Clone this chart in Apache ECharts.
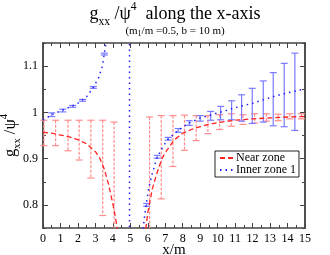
<!DOCTYPE html>
<html><head><meta charset="utf-8">
<script src="https://cdn.jsdelivr.net/npm/echarts@6/dist/echarts.min.js"></script>
<style>html,body{margin:0;padding:0;background:#fff}#c{width:330px;height:255px}</style>
</head><body><div id="c"></div>
<script>
// Near zone curve
const nearX = [0, 0.5, 1, 1.5, 2, 2.5, 3, 3.25, 3.5, 3.75, 4.0, 4.15, 4.3, 4.45, 5.7, 5.8, 5.9, 6.0, 6.25, 6.5, 6.8, 7.0, 7.5, 8, 8.5, 9, 9.5, 10, 11, 12, 13, 14, 15];
const nearY = [0.957, 0.955, 0.951, 0.947, 0.941, 0.932, 0.915, 0.901, 0.878, 0.845, 0.802, 0.772, 0.738, 0.70, 0.68, 0.722, 0.753, 0.783, 0.833, 0.866, 0.899, 0.913, 0.940, 0.955, 0.963, 0.969, 0.974, 0.978, 0.983, 0.986, 0.988, 0.990, 0.991];
// Inner zone 1 curve
const innerX = [0, 0.5, 1, 1.5, 2, 2.5, 2.9, 3.2, 3.4, 3.6, 3.75, 4.95, 4.96, 5.6, 5.74, 5.9, 6.05, 6.22, 6.54, 6.89, 7.17, 7.5, 7.74, 8.0, 8.37, 9.0, 9.4, 9.75, 10.3, 10.9, 11.5, 12.04, 12.6, 13.18, 13.75, 14.33, 15];
const innerY = [0.983, 0.995, 1.003, 1.011, 1.020, 1.034, 1.055, 1.076, 1.100, 1.15, 1.21, 3, -3, 0.6, 0.752, 0.80, 0.835, 0.863, 0.904, 0.927, 0.943, 0.953, 0.961, 0.968, 0.977, 0.988, 0.992, 0.996, 1.002, 1.009, 1.015, 1.020, 1.027, 1.034, 1.040, 1.045, 1.051];
// Near zone error bars
const nearErrX = [0.05, 0.72, 1.43, 2.07, 2.74, 3.42, 4.07, 6.1, 6.77, 7.44, 8.1, 8.77, 9.44, 10.11, 10.78, 11.45, 12.12, 12.79, 13.46, 14.13, 14.8];
const nearErrLow = [0.928, 0.928, 0.917, 0.897, 0.858, 0.777, 0.60, 0.636, 0.813, 0.883, 0.918, 0.939, 0.954, 0.963, 0.970, 0.974, 0.977, 0.981, 0.982, 0.986, 0.986];
const nearErrHigh = [0.983, 0.983, 0.983, 0.983, 0.983, 0.983, 0.979, 0.990, 0.993, 0.993, 0.994, 0.993, 0.993, 0.995, 0.997, 0.995, 0.997, 0.997, 0.996, 0.997, 0.997];
// Inner zone 1 error bars
const innerErrX = [0.5, 1.13, 1.7, 2.27, 2.88, 3.51, 5.94, 6.54, 7.17, 7.74, 8.37, 9.0, 9.6, 10.17, 10.8, 11.37, 11.98, 12.61, 13.18, 13.81, 14.42];
const innerErrLow = [0.991, 1.001, 1.011, 1.024, 1.052, 1.124, 0.797, 0.901, 0.940, 0.957, 0.972, 0.981, 0.983, 0.984, 0.984, 0.981, 0.976, 0.979, 0.971, 0.969, 0.961];
const innerErrHigh = [0.999, 1.007, 1.015, 1.028, 1.056, 1.128, 0.803, 0.907, 0.946, 0.965, 0.982, 0.993, 1.002, 1.013, 1.025, 1.038, 1.052, 1.068, 1.086, 1.106, 1.128];
// Ticks
const xMin = 0, xMax = 15, xStep = 1;
const yMin = 0.75, yMax = 1.15;
const yMajorTicks = [0.8, 0.9, 1, 1.1];
const yMinorTicks = [0.75, 0.85, 0.95, 1.05, 1.15];

const FONT = 'Liberation Serif';
const AX = '#444';

function errRender(color, dash, capW) {
  return function (params, api) {
    const x = api.value(0), lo = api.value(1), hi = api.value(2);
    const pLo = api.coord([x, lo]), pHi = api.coord([x, hi]);
    const cs = params.coordSys;
    const top = cs.y, bot = cs.y + cs.height;
    const clamp = v => Math.max(top, Math.min(bot, v));
    const ch = [{type: 'line', shape: {x1: pLo[0], y1: clamp(pHi[1]), x2: pLo[0], y2: clamp(pLo[1])},
      style: {stroke: color, lineWidth: 1.2, lineDash: dash}}];
    [pHi, pLo].forEach(p => {
      if (p[1] >= top && p[1] <= bot) ch.push({type: 'line', shape: {x1: p[0] - capW, y1: p[1], x2: p[0] + capW, y2: p[1]},
        style: {stroke: color, lineWidth: 1.2}});
    });
    return {type: 'group', children: ch};
  };
}

const zip = (a, b) => a.map((v, i) => [v, b[i]]);
const zip3 = (a, b, c) => a.map((v, i) => [v, b[i], c[i]]);

function yAx(pos, ticks, len, labels) {
  return {type: 'value', min: yMin, max: yMax, position: pos, splitLine: {show: false},
    axisLine: {show: true, onZero: false, lineStyle: {color: AX, width: 1.5}},
    axisTick: {show: true, inside: true, length: len, customValues: ticks, lineStyle: {color: AX}},
    axisLabel: labels ? {show: true, customValues: ticks, color: '#000', fontFamily: FONT, fontSize: 12, margin: 5} : {show: false}};
}
function xAx(pos, labels) {
  const a = {type: 'value', min: xMin, max: xMax, interval: xStep, position: pos, splitLine: {show: false},
    axisLine: {show: true, onZero: false, lineStyle: {color: AX, width: 1.5}},
    axisTick: {show: true, inside: true, length: 5, lineStyle: {color: AX}},
    minorTick: {show: true, splitNumber: 2, length: 3, lineStyle: {color: AX}},
    axisLabel: labels ? {color: '#000', fontFamily: FONT, fontSize: 12, margin: 5} : {show: false}};
  if (labels) {
    a.name = 'x/m'; a.nameLocation = 'middle'; a.nameGap = 15; a.nameMoveOverlap = false;
    a.nameTextStyle = {color: '#000', fontFamily: FONT, fontSize: 15};
  }
  return a;
}

const yMain = yAx('left', yMajorTicks, 5, true);
yMain.name = '{g|g}{sub|xx}{m| /ψ}{sup|4}';
yMain.nameLocation = 'middle';
yMain.nameGap = 20;
yMain.nameMoveOverlap = false;
yMain.nameTextStyle = {color: '#000', fontFamily: FONT, rich: {
  g: {fontSize: 16.5, fontFamily: FONT, lineHeight: 24},
  m: {fontSize: 16.5, fontFamily: FONT, lineHeight: 24},
  sub: {fontSize: 10.5, fontFamily: FONT, lineHeight: 10, verticalAlign: 'bottom'},
  sup: {fontSize: 10.5, fontFamily: FONT, lineHeight: 13, verticalAlign: 'top'}
}};

const chart = echarts.init(document.getElementById('c'), null, {renderer: 'canvas'});
chart.setOption({
  animation: false,
  backgroundColor: '#fff',
  grid: {left: 43, right: 25, top: 43, bottom: 27, containLabel: false, outerBoundsMode: 'none'},
  xAxis: [xAx('bottom', true), xAx('top', false)],
  yAxis: [yMain, yAx('left', yMinorTicks, 3, false), yAx('right', yMajorTicks, 5, false), yAx('right', yMinorTicks, 3, false)],
  legend: {
    data: ['Near zone', 'Inner zone 1'], orient: 'vertical', left: 215, top: 151,
    backgroundColor: '#fff', borderColor: '#222', borderWidth: 1, padding: [1, 3, 1, 4], itemGap: 0,
    itemWidth: 13, itemHeight: 10, itemStyle: {opacity: 0},
    textStyle: {color: '#000', fontFamily: FONT, fontSize: 12, lineHeight: 11, padding: [0, 0, 0, -2]}
  },
  graphic: [
    {type: 'text', x: 175, y: 1, style: {
      text: '{m|g}{sub|xx}{m| /ψ}{sup|4}{m|  along the x-axis}', align: 'center', verticalAlign: 'top', fill: '#000',
      rich: {
        m: {fontSize: 18, fontFamily: FONT, lineHeight: 27, fill: '#000'},
        sub: {fontSize: 11.5, fontFamily: FONT, lineHeight: 11, verticalAlign: 'bottom', fill: '#000'},
        sup: {fontSize: 11.5, fontFamily: FONT, lineHeight: 14, verticalAlign: 'top', fill: '#000'}
      }}},
    {type: 'text', x: 175, y: 25, style: {
      text: '{m|(m}{sub|1}{m|/m =0.5, b = 10 m)}', align: 'center', verticalAlign: 'top', fill: '#000',
      rich: {
        m: {fontSize: 11, fontFamily: FONT, lineHeight: 13, fill: '#000'},
        sub: {fontSize: 8, fontFamily: FONT, lineHeight: 8, verticalAlign: 'bottom', fill: '#000'}
      }}}
  ],
  series: [
    {name: 'nearErr', type: 'custom', renderItem: errRender('#ff8c8c', [3, 1.5], 3.5), data: zip3(nearErrX, nearErrLow, nearErrHigh), z: 2},
    {name: 'innerErr', type: 'custom', renderItem: errRender('#7a7aff', null, 3.5), data: zip3(innerErrX, innerErrLow, innerErrHigh), z: 2},
    {name: 'Near zone', type: 'line', data: zip(nearX, nearY), symbol: 'none', clip: true, z: 3,
      lineStyle: {color: '#ff2020', width: 1.3, type: [5, 3]}, itemStyle: {color: '#ff2020'}},
    {name: 'Inner zone 1', type: 'line', data: zip(innerX, innerY), symbol: 'none', clip: true, z: 3,
      lineStyle: {color: '#2020ff', width: 1.5, type: [1.5, 4]}, itemStyle: {color: '#2020ff'}}
  ]
});
</script></body></html>
